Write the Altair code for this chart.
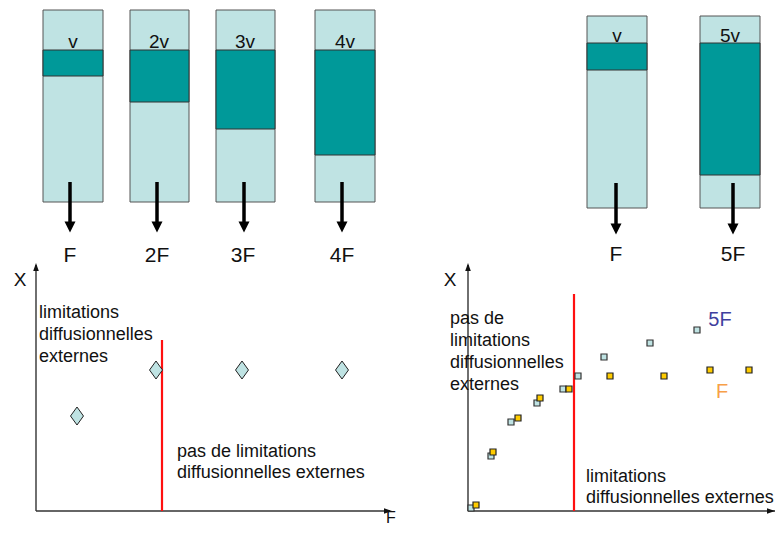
import altair as alt
import pandas as pd

# ---------------- top diagrams: columns with a feed band ----------------
col_x0 = [43, 130, 216, 315, 587, 700]
col_x1 = [103, 189, 275, 375, 647, 760]
col_top = [10, 10, 10, 10, 16, 16]
col_bottom = [202, 202, 202, 202, 208, 208]
band_top = [50, 50, 50, 50, 43, 43]
band_bottom = [76, 102, 129, 155, 70, 175]
band_labels = ["v", "2v", "3v", "4v", "v", "5v"]
band_label_x = [73, 159, 245, 345, 617, 730]
band_label_y = [48, 48, 48, 48, 42, 42]
flow_x = [70, 157, 244, 342, 616, 733]
flow_y0 = [182, 182, 182, 182, 183, 183]
flow_shaft_end = [226, 226, 226, 226, 228, 228]
flow_head_y = [227, 227, 227, 227, 229, 229]
flow_labels = ["F", "2F", "3F", "4F", "F", "5F"]
flow_label_x = [70, 157, 243, 342, 616, 733]
flow_label_y = [262, 262, 262, 262, 261, 261]

# ---------------- left plot: X vs F ----------------
diam_x = [77, 156, 242, 342]
diam_y = [416, 370, 370, 370]

# ---------------- right plot: two series ----------------
sq5_x = [471, 491, 511, 537, 563, 578, 604, 650, 697]
sq5_y = [508, 456, 422, 403, 389, 376, 357, 343, 330]
sqF_x = [476, 493, 518, 540, 569, 610, 664, 710, 749]
sqF_y = [505, 452, 418, 398, 389, 376, 376, 370, 370]

# axes (x0, x1, y0, y1)
axis_x0 = [36, 36, 468, 468]
axis_x1 = [36, 390, 468, 775]
axis_y0 = [265, 511, 265, 511]
axis_y1 = [511, 511, 511, 511]
axis_up_x = [36, 468]
axis_up_y = [267, 267]
axis_right_x = [388, 771]
axis_right_y = [511, 511]
axis_lab = ["X", "X"]
axis_lab_x = [20, 450]
axis_lab_y = [286, 286]
xaxis_lab = ["F"]
xaxis_lab_x = [391]
xaxis_lab_y = [523]

# red separators
red_x = [162, 574]
red_y0 = [340, 294]
red_y1 = [511, 511]

# annotations
ann_text = ["limitations", "diffusionnelles", "externes",
            "pas de limitations", "diffusionnelles externes",
            "pas de", "limitations", "diffusionnelles", "externes",
            "limitations", "diffusionnelles externes"]
ann_x = [39, 39, 39, 177, 177, 450, 450, 450, 450, 586, 586]
ann_y = [318, 340, 362, 457, 478, 324, 346, 368, 390, 482, 503]

series_lab = ["5F", "F"]
series_lab_x = [720, 722]
series_lab_y = [326, 398]
series_col = ["#3f3f9e", "#f7a048"]

FONT = "Liberation Sans"
xs = alt.Scale(domain=[8, 776], nice=False, zero=False)
ys = alt.Scale(domain=[8, 527], nice=False, zero=False, reverse=True)

def X(f):
    return alt.X(f, type="quantitative", scale=xs, axis=None)

def Y(f):
    return alt.Y(f, type="quantitative", scale=ys, axis=None)

cols = pd.DataFrame({"x0": col_x0, "x1": col_x1, "y0": col_top, "y1": col_bottom})
bands = pd.DataFrame({"x0": col_x0, "x1": col_x1, "y0": band_top, "y1": band_bottom})
blab = pd.DataFrame({"x": band_label_x, "y": band_label_y, "t": band_labels})
flows = pd.DataFrame({"x": flow_x, "y0": flow_y0, "y1": flow_shaft_end, "hy": flow_head_y})
flab = pd.DataFrame({"x": flow_label_x, "y": flow_label_y, "t": flow_labels})
axes = pd.DataFrame({"x0": axis_x0, "x1": axis_x1, "y0": axis_y0, "y1": axis_y1})
aup = pd.DataFrame({"x": axis_up_x, "y": axis_up_y})
art = pd.DataFrame({"x": axis_right_x, "y": axis_right_y})
alab = pd.DataFrame({"x": axis_lab_x, "y": axis_lab_y, "t": axis_lab})
xlab = pd.DataFrame({"x": xaxis_lab_x, "y": xaxis_lab_y, "t": xaxis_lab})
reds = pd.DataFrame({"x": red_x, "y0": red_y0, "y1": red_y1})
ann = pd.DataFrame({"x": ann_x, "y": ann_y, "t": ann_text})
diam = pd.DataFrame({"x": diam_x, "y": diam_y})
s5 = pd.DataFrame({"x": sq5_x, "y": sq5_y})
sF = pd.DataFrame({"x": sqF_x, "y": sqF_y})
slab = pd.DataFrame({"x": series_lab_x, "y": series_lab_y, "t": series_lab, "c": series_col})

layers = [
    alt.Chart(cols).mark_rect(fill="#bfe3e3", stroke="#555555", strokeWidth=1).encode(
        x=X("x0"), x2="x1", y=Y("y0"), y2="y1"),
    alt.Chart(bands).mark_rect(fill="#009999", stroke="#333333", strokeWidth=1).encode(
        x=X("x0"), x2="x1", y=Y("y0"), y2="y1"),
    alt.Chart(blab).mark_text(font=FONT, fontSize=19, align="center", baseline="alphabetic", color="#111").encode(
        x=X("x"), y=Y("y"), text="t"),
    alt.Chart(flows).mark_rule(color="#000", strokeWidth=3.5).encode(
        x=X("x"), y=Y("y0"), y2="y1"),
    alt.Chart(flows).mark_point(shape="M-1,-1L1,-1L0,1Z", size=121, filled=True, color="#000", opacity=1).encode(
        x=X("x"), y=Y("hy")),
    alt.Chart(flab).mark_text(font=FONT, fontSize=21, align="center", baseline="alphabetic", color="#111").encode(
        x=X("x"), y=Y("y"), text="t"),
    alt.Chart(axes).mark_rule(color="#333", strokeWidth=1.4).encode(
        x=X("x0"), x2="x1", y=Y("y0"), y2="y1"),
    alt.Chart(aup).mark_point(shape="M0,-1L0.7,1L-0.7,1Z", size=64, filled=True, color="#111", opacity=1).encode(
        x=X("x"), y=Y("y")),
    alt.Chart(art).mark_point(shape="M1,0L-1,0.7L-1,-0.7Z", size=64, filled=True, color="#111", opacity=1).encode(
        x=X("x"), y=Y("y")),
    alt.Chart(alab).mark_text(font=FONT, fontSize=19, align="center", baseline="alphabetic", color="#111").encode(
        x=X("x"), y=Y("y"), text="t"),
    alt.Chart(xlab).mark_text(font=FONT, fontSize=16, align="center", baseline="alphabetic", color="#111").encode(
        x=X("x"), y=Y("y"), text="t"),
    alt.Chart(reds).mark_rule(color="#ff1010", strokeWidth=2.2).encode(
        x=X("x"), y=Y("y0"), y2="y1"),
    alt.Chart(ann).mark_text(font=FONT, fontSize=18, align="left", baseline="alphabetic", color="#111").encode(
        x=X("x"), y=Y("y"), text="t"),
    alt.Chart(diam).mark_point(shape="M0,-1L0.72,0L0,1L-0.72,0Z", size=324, filled=True,
                               fill="#bfe3e3", stroke="#222", strokeWidth=1, opacity=1).encode(
        x=X("x"), y=Y("y")),
    alt.Chart(s5).mark_point(shape="square", size=36, filled=True, fill="#bfe3e3",
                             stroke="#333", strokeWidth=1.2, opacity=1).encode(
        x=X("x"), y=Y("y")),
    alt.Chart(sF).mark_point(shape="square", size=36, filled=True, fill="#ffcc00",
                             stroke="#222", strokeWidth=1.2, opacity=1).encode(
        x=X("x"), y=Y("y")),
    alt.Chart(slab).mark_text(font=FONT, fontSize=20, align="center", baseline="alphabetic").encode(
        x=X("x"), y=Y("y"), text="t", color=alt.Color("c:N", scale=None)),
]

chart = alt.layer(*layers).properties(
    width=768, height=519, padding=0, autosize=alt.AutoSizeParams(type="none"),
    background="white"
).configure_view(stroke=None)

chart.save("out.html", embed_options={"renderer": "svg", "actions": False})
